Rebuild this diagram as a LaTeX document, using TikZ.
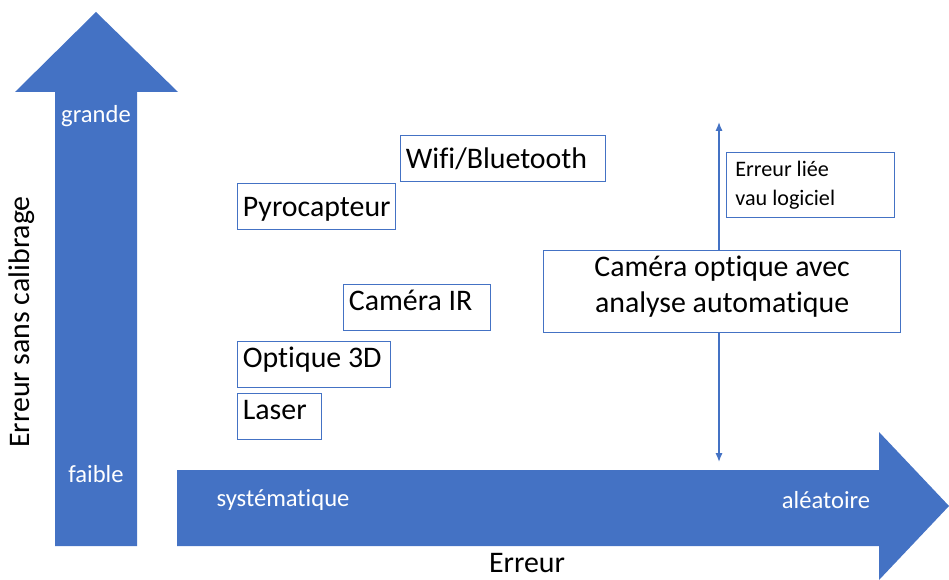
\documentclass[tikz,border=0pt]{standalone}
\usepackage{fontspec}
\setmainfont{Carlito}[Ligatures=NoCommon]
\usetikzlibrary{arrows.meta,positioning}
\definecolor{ofBlue}{HTML}{4472C4}
\tikzset{
  box/.style={draw=ofBlue,line width=0.7pt,fill=white,anchor=north west,align=flush left,
              inner xsep=3pt,inner ysep=0pt,minimum height=0.92cm,text width=#1,
              text height=0.45cm,text depth=0.05cm,
              font=\fontsize{17}{20.5}\selectfont},
  low/.style={text depth=0.35cm},
  note/.style={draw=ofBlue,line width=0.7pt,fill=white,anchor=north west,align=flush left,
               inner xsep=5pt,inner ysep=0pt,text width=#1,
               font=\fontsize{12.6}{16.4}\selectfont},
  wlbl/.style={text=white,font=\fontsize{14}{16}\selectfont},
  axlbl/.style={font=\fontsize{17}{20}\selectfont},
  arr/.style={{Latex[length=5pt,width=4pt]}-{Latex[length=5pt,width=4pt]},draw=ofBlue,line width=0.8pt},
  bigarr/.style={fill=ofBlue},
}

\begin{document}
\begin{tikzpicture}[x=0.02cm,y=-0.02cm]
  \useasboundingbox (0,0) rectangle (949,580);
  % axes
  \fill[bigarr] (55,546) -- (55,92) -- (15,92) -- (96,12) -- (178,92) -- (137,92) -- (137,546) -- cycle;
  \fill[bigarr] (177,470) -- (879,470) -- (879,432) -- (949,506) -- (879,580) -- (879,546) -- (177,546) -- cycle;
  \node[wlbl] (gr) at (96,116) {grande};
  \node[wlbl] (fa) at (96,474) {faible};
  \node[wlbl] (sy) at (283,500) {systématique};
  \node[wlbl] (al) at (826,500) {aléatoire};
  \node[axlbl,rotate=90] (ey) at (22,322) {Erreur sans calibrage};
  \node[axlbl] (ex) at (527,563) {Erreur};
  % sensors
  \coordinate (lt) at (719,122);
  \coordinate (lb) at (719,462);
  \draw[arr] (lb) -- (lt);
  \node[box=3.89cm] (wifi) at (400,135) {Wifi/Bluetooth};
  \node[box=2.95cm] (pyro) at (237,183) {Pyrocapteur};
  \node[box=2.73cm,low] (camir) at (343,284) {Caméra IR};
  \node[box=2.85cm,low] (opt) at (237,341) {Optique 3D};
  \node[box=1.47cm,low] (laser) at (237,393) {Laser};
  \node[box=6.93cm,align=flush center,minimum height=1.64cm,text height=,text depth=1.0cm] (cam) at (543,250)
    {Caméra optique avec\\analyse automatique};
  \node[note=3.01cm,minimum height=1.3cm] (log) at (726,152) {Erreur liée\\vau logiciel};
\end{tikzpicture}
\end{document}
